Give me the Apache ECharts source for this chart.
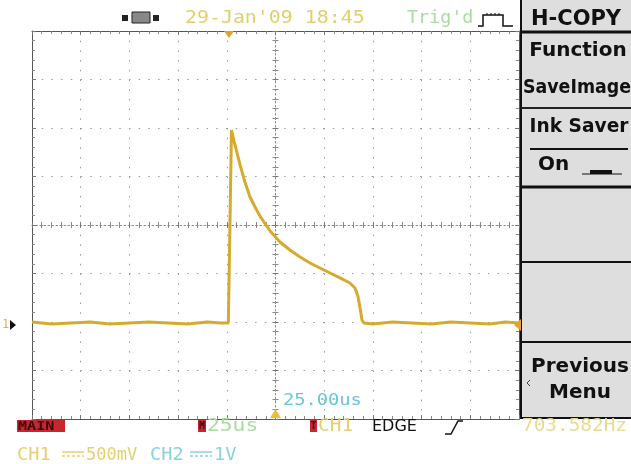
<!DOCTYPE html>
<html><head><meta charset="utf-8">
<script src="https://cdn.jsdelivr.net/npm/echarts@6/dist/echarts.min.js"></script>
<style>html,body{margin:0;padding:0;background:#fff}#c{width:631px;height:464px}</style>
</head><body><div id="c"></div>
<script>
// ---- data (CH1 trace, time in microseconds, amplitude in volts) ----
const timeUs = [-125,-115,-105,-95,-85,-75,-65,-55,-45,-35,-28,-24.2,-22.6,-20.8,-18.2,-15.7,-13.1,-10.5,-8.0,-2.8,2.3,7.4,12.6,17.7,22.8,28.0,33.1,38.2,40.8,42.3,43.4,44.4,45.4,50,60,70,80,90,100,110,118,125];
const ch1Volts = [-1.00,-1.02,-1.01,-1.00,-1.02,-1.01,-1.00,-1.01,-1.02,-1.00,-1.01,-1.01,0.979,0.825,0.619,0.443,0.289,0.186,0.093,-0.062,-0.175,-0.258,-0.330,-0.392,-0.443,-0.495,-0.546,-0.598,-0.650,-0.732,-0.856,-0.979,-1.01,-1.02,-1.00,-1.01,-1.02,-1.00,-1.01,-1.02,-1.00,-1.01];
const xRange = [-125, 125]; const xStep = 25;   // 25 us / div
const yRange = [-2, 2];     const yStep = 0.5;  // 500 mV / div

const dateText = "29-Jan'09 18:45";
const trigText = "Trig'd";
const menuTitle = "H-COPY";
const freqText = "703.582Hz";
const delayText = "25.00us";
const timebaseText = "25us";

const G = {left:32, top:31, width:487, height:388};

const mono = (sz, w) => (w||'normal') + ' ' + sz + 'px "DejaVu Sans Mono"';
const bold = sz => 'bold ' + sz + 'px "DejaVu Sans"';
function txt(x, y, s, color, font, sx, align) {
  return {type:'text', x:x, y:y, scaleX: sx||1, z:50,
    style:{text:s, fill:color, font:font, textAlign:align||'left', align:align||'left', textVerticalAlign:'middle', verticalAlign:'middle'}};
}
function rect(x,y,w,h,fill,stroke,lw){return {type:'rect', z:40, shape:{x:x,y:y,width:w,height:h}, style:{fill:fill||'none', stroke:stroke||null, lineWidth:lw||0}};}
function line(x1,y1,x2,y2,color,lw){return {type:'line', z:45, shape:{x1:x1,y1:y1,x2:x2,y2:y2}, style:{stroke:color, lineWidth:lw}};}
function poly(pts,fill){return {type:'polygon', z:45, shape:{points:pts}, style:{fill:fill}};}
function pline(pts,color,lw){return {type:'polyline', z:45, shape:{points:pts}, style:{stroke:color, lineWidth:lw, fill:null}};}

const baseAx = (extra) => Object.assign({
  type:'value', axisLabel:{show:false}, splitLine:{show:false},
  axisLine:{show:true, onZero:false, lineStyle:{color:'#555', width:1}},
  axisTick:{show:true, inside:true, length:4, lineStyle:{color:'#777'}},
  minorTick:{show:true, splitNumber:5, length:3, lineStyle:{color:'#888'}},
}, extra);

const xCommon = {min:xRange[0], max:xRange[1], interval:xStep};
const yCommon = {min:yRange[0], max:yRange[1], interval:yStep};
const centerLine = {show:true, onZero:false, lineStyle:{color:'#888', width:1, type:[1.5,2.5]}};

const chart = echarts.init(document.getElementById('c'), null, {renderer:'canvas'});
const panelX = 521;
const option = {
  animation:false,
  backgroundColor:'#fff',
  grid:{left:G.left, top:G.top, width:G.width, height:G.height, containLabel:false},
  xAxis:[
    baseAx(Object.assign({position:'bottom', splitLine:{show:true, lineStyle:{color:'#999', width:1, type:[1.5,8.2]}}}, xCommon)),
    baseAx(Object.assign({position:'top'}, xCommon)),
    baseAx(Object.assign({position:'bottom', offset:-G.height/2, axisLine:centerLine,
      axisTick:{show:true, inside:true, length:3, lineStyle:{color:'#777'}}, minorTick:{show:true, splitNumber:5, length:3, lineStyle:{color:'#888'}}}, xCommon)),
    baseAx(Object.assign({position:'bottom', offset:-G.height/2, axisLine:{show:false},
      axisTick:{show:true, inside:false, length:3, lineStyle:{color:'#777'}}, minorTick:{show:true, splitNumber:5, length:3, lineStyle:{color:'#888'}}}, xCommon))
  ],
  yAxis:[
    baseAx(Object.assign({position:'left', splitLine:{show:true, lineStyle:{color:'#999', width:1, type:[1.5,8.2]}}}, yCommon)),
    baseAx(Object.assign({position:'right'}, yCommon)),
    baseAx(Object.assign({position:'left', offset:-G.width/2, axisLine:centerLine,
      axisTick:{show:true, inside:true, length:3, lineStyle:{color:'#777'}}, minorTick:{show:true, splitNumber:5, length:3, lineStyle:{color:'#888'}}}, yCommon)),
    baseAx(Object.assign({position:'left', offset:-G.width/2, axisLine:{show:false},
      axisTick:{show:true, inside:false, length:3, lineStyle:{color:'#777'}}, minorTick:{show:true, splitNumber:5, length:3, lineStyle:{color:'#888'}}}, yCommon))
  ],
  series:[{
    type:'line', xAxisIndex:0, yAxisIndex:0, showSymbol:false, z:10,
    data: timeUs.map((t,i)=>[t, ch1Volts[i]]),
    lineStyle:{color:'#d6aa2c', width:3}
  }],
  graphic:{elements:[
    // right menu panel
    rect(panelX, 0, 631-panelX, 419, '#dedede'),
    line(panelX, 0, panelX, 419, '#111', 2),
    line(panelX, 32, 631, 32, '#111', 3),
    line(panelX, 108, 631, 108, '#222', 2),
    line(panelX, 187, 631, 187, '#111', 3),
    line(panelX, 262, 631, 262, '#111', 2),
    line(panelX, 342, 631, 342, '#111', 2),
    line(panelX, 418, 631, 418, '#111', 2),
    txt(576, 20, menuTitle, '#111', bold(21), 1, 'center'),
    txt(578, 51, 'Function', '#111', bold(20), 1, 'center'),
    txt(577, 88, 'SaveImage', '#111', bold(20), 0.87, 'center'),
    txt(579, 127, 'Ink Saver', '#111', bold(20), 0.93, 'center'),
    line(530, 149, 628, 149, '#111', 2),
    txt(538, 165, 'On', '#111', bold(20), 1, 'left'),
    line(582, 174, 622, 174, '#111', 1),
    rect(590, 170, 22, 4, '#111'),
    txt(580, 367, 'Previous', '#111', bold(20), 1, 'center'),
    txt(580, 393, 'Menu', '#111', bold(20), 1, 'center'),
    pline([[530,380],[527,383],[530,386]], '#444', 1),
    // top bar
    rect(122,15,6,6,'#222'), rect(132,12,18,11,'#888','#222',1), rect(153,15,6,6,'#222'),
    txt(185, 19, dateText, '#e2cf6a', mono(17), 1.17),
    txt(407, 19, trigText, '#a9dba0', mono(17), 1.08),
    pline([[478,26],[483,26],[483,15],[503,15],[503,26],[513,26]], '#111', 1.5),
    line(487,13,487,15,'#111',1), line(491,13,491,15,'#111',1), line(495,13,495,15,'#111',1), line(499,13,499,15,'#111',1),
    // markers
    poly([[224,31],[234,31],[229,38]], '#e0a030'),
    poly([[270,418],[281,418],[275.5,409]], '#e8c040'),
    txt(2, 325, '1', '#e0b060', mono(12), 1),
    poly([[10,320],[10,330],[16,325]], '#111'),
    poly([[514,325],[521,319],[521,331]], '#e8a030'),
    txt(283, 401, delayText, '#66c6dc', mono(16), 1.17),
    // bottom row 1
    rect(17,420,48,12,'#c8262e'), txt(18, 426.5, 'MAIN', '#3a0a0a', mono(13,'bold'), 1.16),
    rect(198,420,8,12,'#c8262e'), txt(199, 426.5, 'M', '#3a0a0a', mono(10,'bold'), 1),
    txt(207, 427, timebaseText, '#a8dca0', mono(17), 1.25),
    rect(310,420,7,12,'#c8262e'), txt(310.5, 426.5, 'T', '#3a0a0a', mono(10,'bold'), 1),
    txt(318, 427, 'CH1', '#e6cf72', mono(17), 1.15),
    txt(372, 427, 'EDGE', '#111', '16px "DejaVu Sans"', 1),
    pline([[445,434],[451,434],[458,421],[463,421]], '#111', 1.5),
    txt(522, 427, freqText, '#e6dc8c', mono(17), 1.14),
    // bottom row 2
    txt(17, 456, 'CH1', '#e6cf72', mono(17), 1.1),
    line(62,452,84,452,'#e6cf72',1.5), {type:'line', z:45, shape:{x1:62,y1:456,x2:84,y2:456}, style:{stroke:'#e6cf72', lineWidth:1.5, lineDash:[3,2]}},
    txt(86, 456, '500mV', '#e6cf72', mono(17), 1.0),
    txt(150, 456, 'CH2', '#8ccfe0', mono(17), 1.1),
    line(190,452,212,452,'#8ccfe0',1.5), {type:'line', z:45, shape:{x1:190,y1:456,x2:212,y2:456}, style:{stroke:'#8ccfe0', lineWidth:1.5, lineDash:[3,2]}},
    txt(214, 456, '1V', '#8ccfe0', mono(17), 1.1)
  ]}
};
chart.setOption(option);
</script></body></html>
